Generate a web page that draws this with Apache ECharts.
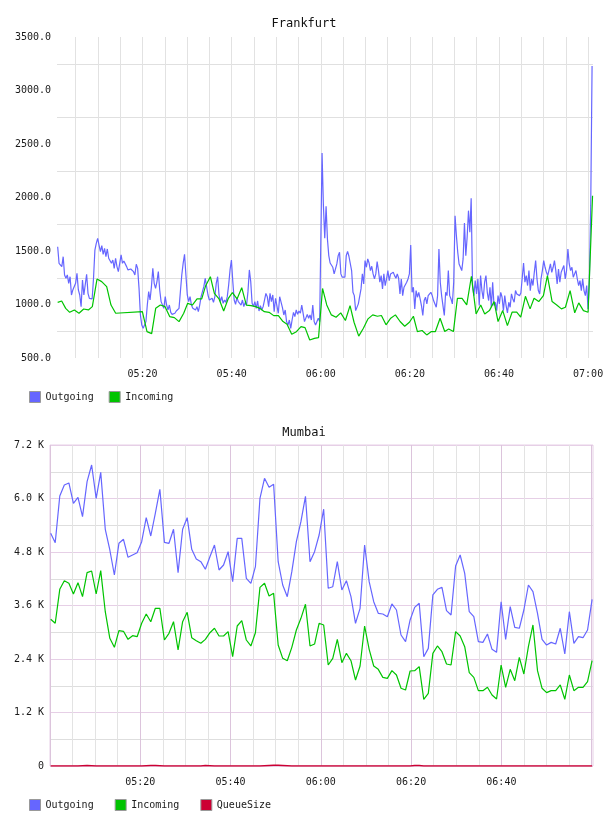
<!DOCTYPE html>
<html>
<head>
<meta charset="utf-8">
<title>Frankfurt / Mumbai</title>
<script src="https://cdn.jsdelivr.net/npm/echarts@6.0.0/dist/echarts.min.js"></script>
<style>
  html, body { margin: 0; padding: 0; background: #fff; }
  #chart { width: 608px; height: 816px; }
</style>
</head>
<body>
<div id="chart"></div>
<script>
// all times are minutes after 05:00

// --- Frankfurt ---
const frOutStartA = 0.95, frOutStepA = 0.3095;
const frOutA = [
  1540,1385,1369,1354,1447,1276,1245,1276,1198,1260,
  1089,1136,1151,1198,1291,1136,1089,980,1229,1089,
  1073,1282,1104,1058,1042,1052,1245,1509,1572,1618,
  1556,1494,1550,1469,1525,1447,1519,1432,1447,1385,
  1416,1338,1432,1354,1307,1385,1463,1385,1407,1394,
  1354,1323,1323,1332,1338,1307,1276,1376,1338,1151,
  902,808,777,808,840,995,1120,1042,1167,1338,
  1198,1151,1214,1307,1136,1027,1042,964,1073,995,
  949,995,927,908,902,918,939,927,964,1120,
  1276,1385,1469,1276,1089,1027,1073,995,964,980,
  949,980,933,995,1073,1120,1167,1245,1260,1089,
  1042,1027,1058,1020,1073,1198,1260,1089,1027,1073,
  1011,1042,1020,1073,1182,1323,1416,1214,1042,1002,
  1064,1027,1033,995,1042,980,1020,995,1120,1323,
  1214,1011,980,1027,964,1033,939,989,949,980,
  1042,1104,1073,980,1104,1027,1089,933,1058,1042,
  918,1073,1064,970,902,949,840,808,855,777,
  855,927,887,949,908,939,918,995,1011,840,
  824,908,871,902,855,995,840,808,824,871,
  840
];
const frOutStartB = 60.29, frOutStepB = 0.3015;
const frOutB = [
  2415,1924,1619,1917,1612,1457,1388,1370,1348,1286,
  1286,1379,1457,1488,1286,1255,1255,1255,1457,1497,
  1451,1451,1317,1114,1083,943,953,1006,1015,1146,
  1286,1192,1410,1348,1426,1388,1317,1357,1286,1239,
  1286,1401,1317,1208,1270,1146,1286,1177,1239,1317,
  1223,1286,1270,1301,1270,1245,1286,1245,1099,1239,
  1083,1161,1146,1208,1239,1286,1556,1114,1161,959,
  1130,1068,1114,1052,990,897,1037,1068,1006,1083,
  1099,1114,1083,1037,1052,974,1083,1519,1208,1083,
  990,897,1114,1083,1317,1083,1052,1006,1208,1830,
  1644,1488,1379,1348,1317,1426,1762,1457,1628,1877,
  1675,1992,1177,1083,1223,1099,1239,990,1270,1130,
  1052,1208,1270,1114,1037,1161,974,1208,990,1021,
  943,1083,1006,1114,1068,943,1083,990,921,1021,
  974,1099,1052,1021,1130,1099,1114,1083,1108,1099,
  1388,1208,1270,1177,1317,1130,1239,1177,1301,1410,
  1239,1130,1099,1239,1317,1410,1348,1301,1270,1286,
  1379,1301,1348,1410,1317,1192,1332,1208,1301,1286,
  1364,1239,1317,1519,1379,1317,1348,1255,1286,1317,
  1239,1177,1223,1130,1239,1130,1083,1177,959,1239,
  1924,3229
];
const frInTimes = [
  0.95,1.85,2.75,3.65,4.69,5.74,6.79,7.84,8.73,9.78,10.83,11.95,12.92,13.97,
  19.96,21.0,22.05,22.95,24.0,25.05,26.09,27.14,28.19,29.24,
  30.13,31.18,32.23,33.28,34.17,35.22,36.12,37.17,38.21,39.26,
  40.16,41.21,42.26,43.3,44.35,45.4,46.3,47.34,48.39,49.44,
  50.49,51.53,52.43,53.48,54.53,55.57,56.47,57.52,58.57,59.5,60.4,
  61.34,62.38,63.43,64.48,65.53,66.57,67.47,68.52,69.57,70.61,
  71.66,72.71,73.61,74.65,75.7,76.75,77.8,78.84,79.89,80.79,
  81.69,82.74,83.78,84.83,85.73,86.78,87.82,88.72,89.77,90.67,
  91.71,92.76,93.81,94.86,95.9,96.8,97.85,98.9,99.79,100.84,
  101.89,102.94,103.98,104.88,105.93,106.98,107.87,108.92,109.97,110.87,
  111.92,112.96,114.01,114.91,115.96,117.0,117.9,118.95,120.0,121.0
];
const frIn = [
  1020,1033,964,927,949,918,958,949,980,1238,1214,1167,995,918,
  933,746,728,964,995,980,887,877,840,918,
  1011,995,1052,1052,1176,1260,1104,1052,939,1058,
  1111,1052,1157,995,989,980,964,933,927,896,
  896,840,815,721,746,793,784,668,684,690,1150,
  996,903,881,922,850,990,834,704,778,866,
  903,890,897,810,872,903,841,797,834,890,
  747,757,716,747,747,872,747,772,747,1058,
  1058,996,1264,912,996,912,943,1027,841,943,
  803,928,928,881,1077,959,1058,1027,1083,1270,
  1027,996,959,974,1130,922,1015,943,928,2017
];
const frGridTicks = [5,10,15,20,25,30,35,40,45,50,55,60,65,70,75,80,85,90,95,100,105,110,115,120];
const frLabelTicks = [20,40,60,80,100,120];

// --- Mumbai ---
const mbStart = 0.15, mbStep = 1.008;
const mbOut = [
  5220,5010,6056,6303,6348,5892,6027,5592,6377,6751,
  6004,6587,5309,4845,4284,4995,5085,4681,4733,4785,
  5031,5570,5159,5668,6206,5017,4995,5309,4336,5309,
  5570,4860,4643,4583,4412,4695,4957,4396,4508,4807,
  4134,5107,5107,4210,4098,4471,6004,6453,6251,6318,
  4583,4060,3798,4358,5031,5480,6050,4583,4807,5181,
  5760,3986,4021,4583,3948,4157,3798,3201,3537,4957,
  4134,3685,3425,3409,3349,3634,3499,2938,2788,3275,
  3559,3649,2452,2639,3836,3963,4007,3484,3387,4486,
  4733,4322,3461,3349,2788,2773,2961,2617,2549,3685,
  2841,3573,3111,3089,3499,4060,3910,3425,2841,2714,
  2773,2736,3089,2512,3461,2752,2900,2878,3050,3739
];
const mbIn = [
  3290,3201,3963,4157,4098,3858,4112,3798,4336,4374,
  3858,4381,3461,2864,2662,3035,3021,2841,2923,2900,
  3201,3409,3237,3537,3537,2826,2976,3237,2602,3237,
  3447,2878,2811,2752,2841,2990,3089,2916,2916,3013,
  2452,3140,3259,2826,2692,2990,4007,4098,3813,3873,
  2714,2415,2362,2662,3050,3312,3627,2692,2736,3201,
  3163,2265,2415,2841,2318,2527,2362,1929,2243,3140,
  2617,2243,2168,1988,1966,2138,2041,1743,1705,2131,
  2138,2228,1496,1630,2527,2692,2564,2288,2265,3013,
  2916,2676,2093,1988,1690,1690,1765,1593,1503,2265,
  1765,2168,1914,2437,2064,2676,3163,2138,1743,1645,
  1690,1690,1817,1496,2041,1690,1765,1765,1891,2362
];
const mbQueue = [
  0,0,0,0,0,0,0,8,12,8, 0,0,0,0,0,0,0,0,0,0,
  0,6,12,12,6,0,0,0,0,0, 0,0,0,0,12,8,0,0,0,0,
  0,0,0,0,0,0,0,6,12,15, 15,12,6,0,0,0,0,0,0,0,
  0,0,0,0,0,0,0,0,0,0, 0,0,0,0,0,0,0,0,0,0,
  10,10,0,0,0,0,0,0,0,0, 0,0,0,0,0,0,0,0,0,0,
  0,0,0,0,0,0,0,0,0,0, 0,0,0,0,0,0,0,0,0,0
];
const mbGridTicks = [0,5,10,15,20,25,30,35,40,45,50,55,60,65,70,75,80,85,90,95,100,105,110,115,120];
const mbLabelTicks = [20,40,60,80,100];

const BLUE = '#6666ff';
const GREEN = '#00c400';
const RED = '#cc0033';
const FONT = 'DejaVu Sans Mono';

function steps(start, step, vals) {
  return vals.map((v, i) => [start + i * step, v]);
}
function zip(ts, vals) {
  return vals.map((v, i) => [ts[i], v]);
}
function pad(n) {
  return (n < 10 ? '0' : '') + n;
}
function hhmm(m) {
  let t = Math.round(m);
  return pad(5 + Math.floor(t / 60)) + ':' + pad(t % 60);
}

function lineSeries(name, color, data, idx, width) {
  return {
    name: name,
    type: 'line',
    xAxisIndex: idx,
    yAxisIndex: idx,
    data: data,
    showSymbol: false,
    symbol: 'none',
    lineStyle: { color: color, width: width || 1.2 },
    itemStyle: { color: color },
    animation: false,
  };
}

let labelStyle = { fontFamily: FONT, fontSize: 10, color: '#1a1a1a' };

let chart = echarts.init(document.getElementById('chart'), null, { renderer: 'canvas' });

let option = {
  animation: false,
  backgroundColor: '#fff',
  title: [
    {
      text: 'Frankfurt',
      left: 'center',
      top: 13,
      textStyle: { fontFamily: FONT, fontSize: 12, fontWeight: 'normal', color: '#111' },
    },
    {
      text: 'Mumbai',
      left: 'center',
      top: 422,
      textStyle: { fontFamily: FONT, fontSize: 12, fontWeight: 'normal', color: '#111' },
    },
  ],
  legend: [
    {
      data: ['Outgoing', 'Incoming'],
      left: 24,
      top: 386,
      itemWidth: 11,
      itemHeight: 11,
      itemGap: 15,
      icon: 'rect',
      selectedMode: false,
      itemStyle: { borderColor: '#999', borderWidth: 1 },
      textStyle: labelStyle,
    },
    {
      data: ['Outgoing', 'Incoming', 'QueueSize'],
      left: 24,
      top: 794,
      itemWidth: 11,
      itemHeight: 11,
      itemGap: 21,
      icon: 'rect',
      selectedMode: false,
      itemStyle: { borderColor: '#999', borderWidth: 1 },
      textStyle: labelStyle,
    },
  ],
  grid: [
    { left: 57, right: 15, top: 37, height: 321, show: false },
    { left: 50, right: 15, top: 445, height: 321, show: true, borderColor: '#e6cfe6', borderWidth: 1, backgroundColor: 'transparent' },
  ],
  xAxis: [
    {
      type: 'value',
      gridIndex: 0,
      min: 0.8,
      max: 121.1,
      axisLine: { show: false },
      axisTick: { show: false, customValues: frGridTicks },
      axisLabel: { customValues: frLabelTicks, formatter: hhmm, margin: 11, ...labelStyle },
      splitLine: { show: true, lineStyle: { color: '#e2e2e2', width: 1 } },
    },
    {
      type: 'value',
      gridIndex: 1,
      min: 0,
      max: 120.3,
      axisLine: { show: false },
      axisTick: { show: false, customValues: mbGridTicks },
      axisLabel: { customValues: mbLabelTicks, formatter: hhmm, margin: 11, ...labelStyle },
      splitLine: { show: true, lineStyle: { color: ['#dcc4dc', '#e3e3e3', '#e3e3e3', '#e3e3e3'], width: 1 } },
    },
  ],
  yAxis: [
    {
      type: 'value',
      gridIndex: 0,
      min: 500,
      max: 3500,
      interval: 250,
      axisLine: { show: false },
      axisTick: { show: false },
      axisLabel: {
        margin: 6,
        formatter: v => (v % 500 === 0 ? v.toFixed(1) : ''),
        ...labelStyle,
      },
      splitLine: { show: true, lineStyle: { color: ['rgba(0,0,0,0)', '#e0e0e0'], width: 1 } },
    },
    {
      type: 'value',
      gridIndex: 1,
      min: 0,
      max: 7200,
      interval: 600,
      axisLine: { show: false },
      axisTick: { show: false },
      axisLabel: {
        margin: 6,
        formatter: v => (v % 1200 !== 0 ? '' : v === 0 ? '0' : (v / 1000).toFixed(1) + ' K'),
        ...labelStyle,
      },
      splitLine: { show: true, lineStyle: { color: ['#e6cfe6', '#dedede'], width: 1 } },
    },
  ],
  series: [
    lineSeries('Outgoing', BLUE, steps(frOutStartA, frOutStepA, frOutA).concat(steps(frOutStartB, frOutStepB, frOutB)), 0),
    lineSeries('Incoming', GREEN, zip(frInTimes, frIn), 0),
    lineSeries('Outgoing', BLUE, steps(mbStart, mbStep, mbOut), 1),
    lineSeries('Incoming', GREEN, steps(mbStart, mbStep, mbIn), 1),
    lineSeries('QueueSize', RED, steps(mbStart, mbStep, mbQueue), 1, 1.5),
  ],
};

chart.setOption(option);
</script>
</body>
</html>
